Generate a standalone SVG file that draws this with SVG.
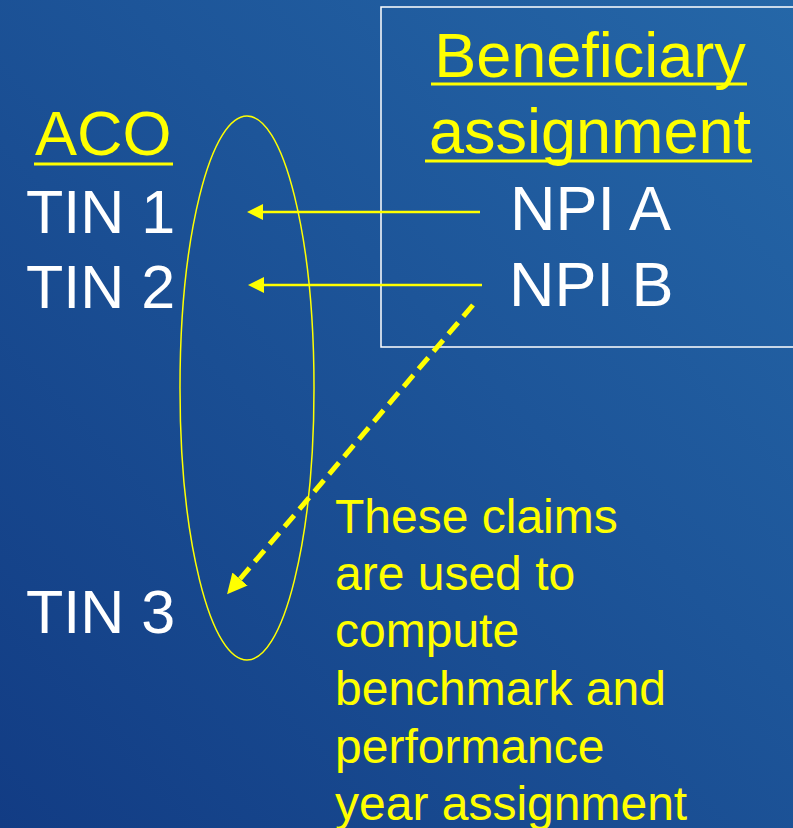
<svg xmlns="http://www.w3.org/2000/svg" width="793" height="828" viewBox="0 0 793 828">
  <defs>
    <linearGradient id="bg" x1="1" y1="0" x2="0" y2="1">
      <stop offset="0" stop-color="#2567a8"/>
      <stop offset="1" stop-color="#123c84"/>
    </linearGradient>
    <marker id="arr" viewBox="0 0 10 10" refX="0" refY="5" markerWidth="16" markerHeight="16" markerUnits="userSpaceOnUse" orient="auto">
      <path d="M0,0 L10,5 L0,10 Z" fill="#ffff00"/>
    </marker>
    <marker id="arrD" viewBox="0 0 10 10" refX="0" refY="5" markerWidth="20" markerHeight="20" markerUnits="userSpaceOnUse" orient="auto">
      <path d="M0,0 L10,5 L0,10 Z" fill="#ffff00"/>
    </marker>
  </defs>
  <style>
    .w { font-family: "Liberation Sans", Arial, sans-serif; font-size: 63px; fill: #ffffff; }
    .t { font-family: "Liberation Sans", Arial, sans-serif; font-size: 61px; fill: #ffffff; }
    .y { font-family: "Liberation Sans", Arial, sans-serif; font-size: 63px; fill: #ffff00; }
    .ul { stroke: #ffff00; stroke-width: 3; }
    .note { font-family: "Liberation Sans", Arial, sans-serif; font-size: 48px; fill: #ffff00; }
    .conn { stroke: #ffff00; fill: none; }
  </style>
  <rect x="0" y="0" width="793" height="828" fill="url(#bg)"/>

  <g id="beneficiary-box">
    <rect x="381" y="7" width="420" height="340" fill="none" stroke="#ffffff" stroke-width="1.5"/>
    <text class="y" x="590" y="77" text-anchor="middle">Beneficiary</text>
    <line class="ul" x1="431" y1="84" x2="747" y2="84"/>
    <text class="y" x="590" y="153" text-anchor="middle">assignment</text>
    <line class="ul" x1="425" y1="161" x2="752" y2="161"/>
  </g>
  <g id="npi-a"><text class="w" x="510" y="230">NPI A</text></g>
  <g id="npi-b"><text class="w" x="509" y="306">NPI B</text></g>

  <g id="aco-label">
    <text class="y" x="35" y="155">ACO</text>
    <line class="ul" x1="34" y1="164" x2="173" y2="164"/>
  </g>
  <g id="tin-1"><text class="t" x="26" y="233">TIN 1</text></g>
  <g id="tin-2"><text class="t" x="26" y="308">TIN 2</text></g>
  <g id="tin-3"><text class="t" x="26" y="633">TIN 3</text></g>

  <g id="aco-ellipse">
    <ellipse cx="247" cy="388" rx="67" ry="272" fill="none" stroke="#ffff00" stroke-width="1.5"/>
  </g>

  <g id="note">
    <text class="note" x="335" y="533">These claims</text>
    <text class="note" x="335" y="590">are used to</text>
    <text class="note" x="335" y="647">compute</text>
    <text class="note" x="335" y="705">benchmark and</text>
    <text class="note" x="335" y="763">performance</text>
    <text class="note" x="335" y="820">year assignment</text>
  </g>

  <g id="connectors">
    <line class="conn" x1="480" y1="212" x2="263" y2="212" stroke-width="2.5" marker-end="url(#arr)"/>
    <line class="conn" x1="482" y1="285" x2="264" y2="285" stroke-width="2.5" marker-end="url(#arr)"/>
    <line class="conn" x1="473" y1="305" x2="240" y2="579" stroke-width="5" stroke-dasharray="15 8" marker-end="url(#arrD)"/>
  </g>
</svg>
